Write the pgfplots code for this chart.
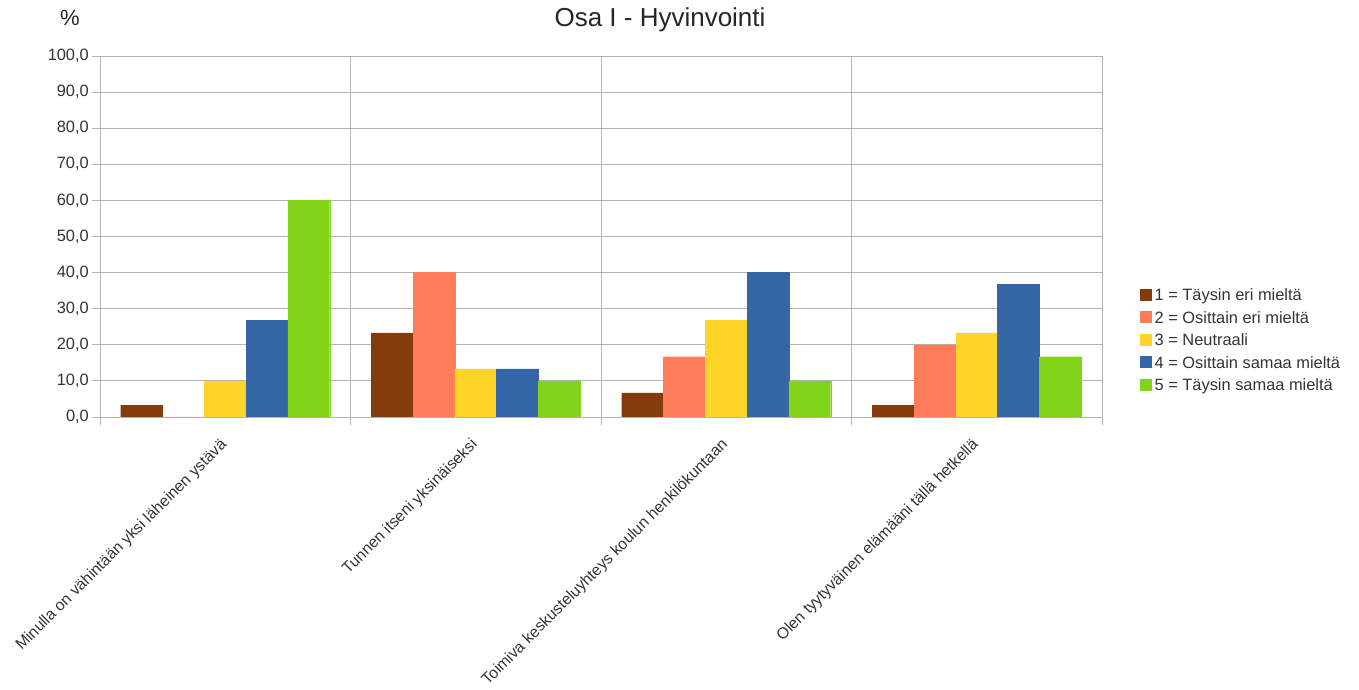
\documentclass[border=0pt]{standalone}
\usepackage{fontspec}
\setmainfont{Liberation Sans}
\usepackage{pgfplots}
\pgfplotsset{compat=1.18}

\definecolor{c1}{HTML}{843C0C}
\definecolor{c2}{HTML}{FF7B59}
\definecolor{c3}{HTML}{FFD428}
\definecolor{c4}{HTML}{3465A4}
\definecolor{c5}{HTML}{81D41A}
\definecolor{gridgray}{HTML}{B3B3B3}
\definecolor{txt}{HTML}{333333}

\begin{document}
\begin{tikzpicture}[x=1pt,y=1pt]
\path[use as bounding box] (0,0) rectangle (1359,690);

\begin{axis}[
  at={(100pt,273pt)}, anchor=south west,
  scale only axis, width=1002pt, height=361pt,
  ymin=0, ymax=100, ytick={0,10,...,100},
  xmin=-0.5, xmax=3.5,
  xtick={0,1,2,3},
  xticklabels={Minulla on vähintään yksi läheinen ystävä,
               Tunnen itseni yksinäiseksi,
               Toimiva keskusteluyhteys koulun henkilökuntaan,
               Olen tyytyväinen elämääni tällä hetkellä},
  minor xtick={-0.5,0.5,1.5,2.5,3.5},
  ymajorgrids, xminorgrids,
  grid style={gridgray, line width=0.8pt},
  minor grid style={gridgray, line width=0.8pt},
  axis line style={gridgray, line width=0.8pt},
  axis x line*=bottom, axis y line*=left,
  tick align=outside,
  major tick length=8pt, minor tick length=8pt,
  major x tick style={draw=none},
  tick style={gridgray, line width=0.8pt},
  minor tick style={gridgray, line width=0.8pt},
  /pgf/number format/.cd, fixed, fixed zerofill, precision=1, use comma, assume math mode=true,
  /pgfplots/.cd,
  yticklabel style={font=\fontsize{16.4}{19}\selectfont, text=txt, inner sep=0pt, xshift=-3pt},
  xticklabel style={font=\fontsize{15.8}{19}\selectfont, text=txt, inner sep=0pt,
                    xshift=-6pt, yshift=-12pt, rotate=45, anchor=north east},
  ybar=0pt, bar width=41.8pt,
  legend style={draw=none, fill=none, at={(1.035,0.362)}, anchor=north west,
                font=\fontsize{16.4}{19}\selectfont, text=txt,
                nodes={inner sep=0pt, text height=12pt, text depth=3.5pt},
                row sep=7pt, column sep=3pt},
  legend cell align=left,
  legend image code/.code={\fill[#1] (0pt,-3.5pt) rectangle (11pt,7.5pt);},
]
\addplot[fill=c1, draw=c1, line width=0.4pt] coordinates {(0,3.3) (1,23.3) (2,6.7) (3,3.3)};
\addplot[fill=c2, draw=c2, line width=0.4pt] coordinates {(0,0) (1,40.0) (2,16.7) (3,20.0)};
\addplot[fill=c3, draw=c3, line width=0.4pt] coordinates {(0,10.0) (1,13.3) (2,26.7) (3,23.3)};
\addplot[fill=c4, draw=c4, line width=0.4pt] coordinates {(0,26.7) (1,13.3) (2,40.0) (3,36.7)};
\addplot[fill=c5, draw=c5, line width=0.4pt] coordinates {(0,60.0) (1,10.0) (2,10.0) (3,16.7)};
\legend{1 = Täysin eri mieltä, 2 = Osittain eri mieltä, 3 = Neutraali,
        4 = Osittain samaa mieltä, 5 = Täysin samaa mieltä}
\draw[gridgray!60, line width=0.8pt] (axis cs:3.5,0) -- (axis cs:3.5,100);
\end{axis}

\node[font=\fontsize{26}{30}\selectfont, text=black!85] at (660,670) {Osa I - Hyvinvointi};
\node[font=\fontsize{22}{26}\selectfont, text=black!85] at (70,672) {\%};
\end{tikzpicture}
\end{document}
